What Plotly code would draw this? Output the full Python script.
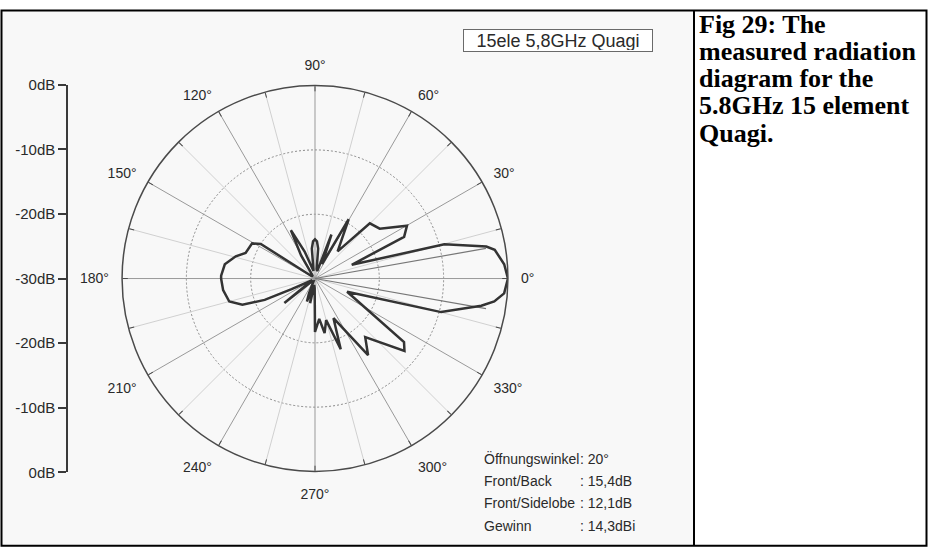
import plotly.graph_objects as go

# ---------------- measured azimuth pattern ----------------
# azimuth in degrees, level in dB relative to the main-lobe peak
azimuth_deg = [0, 4.3, 9.1, 10.6, 14.8, 20.5, 25.1, 29.9, 37.6, 45.2,
               50.2, 60.4, 64, 69.5, 73, 80, 84, 87, 90, 93,
               96, 101, 111, 116.5, 121, 128, 138, 145, 147.5, 150.8,
               159.8, 164.3, 171, 178.2, 180, 187.2, 195, 199.8, 203, 204.5,
               210, 216, 218.6, 222, 242, 248, 250.7, 253, 258.8, 263,
               268, 270, 276, 280, 285, 290, 295, 304.7, 310.6, 321,
               324.5, 337.6, 345.1, 350.7, 352.7, 355.5, 360]
level_db = [0, -0.5, -1.7, -2.9, -9.2, -23.9, -14.7, -13.5, -17.3, -17.9,
            -24.5, -19.4, -27.5, -22.7, -28.8, -28.5, -25.3, -24.2, -23.9, -24.2,
            -25.3, -28.8, -25.5, -21.6, -25.8, -29.3, -29.5, -29.3, -20.0, -18.8,
            -18.5, -17.2, -15.8, -15.4, -15.4, -15.6, -16.2, -18.0, -21.5, -26.0,
            -29.5, -29.0, -23.9, -29.3, -29.5, -27.5, -26.2, -28.5, -26.1, -29.0,
            -28.5, -21.7, -23.7, -21.4, -23.3, -18.3, -23.2, -15.5, -18.0, -12.1,
            -13.0, -24.6, -9.7, -3.8, -1.9, -0.5, 0]

# half-power beamwidth (Öffnungswinkel) and the -3 dB level
beamwidth_deg = 20
half_power_db = -3

# ---------------- scales and labels ----------------
r_floor, r_peak = -30, 0
ring_levels = [-20, -10]
major_angles = list(range(0, 360, 30))
minor_angles = list(range(15, 360, 30))
angle_labels = [f"{a}°" for a in major_angles]

scale_pos = [30, 20, 10, 0, -10, -20, -30]
scale_labels = ["0dB", "-10dB", "-20dB", "-30dB", "-20dB", "-10dB", "0dB"]

chart_title = "15ele 5,8GHz Quagi"
stat_names = ["Öffnungswinkel", "Front/Back", "Front/Sidelobe", "Gewinn"]
stat_values = [": 20°", ": 15,4dB", ": 12,1dB", ": 14,3dBi"]
caption_lines = ["Fig 29: The", "measured radiation", "diagram for the",
                 "5.8GHz 15 element", "Quagi."]

# ---------------- page geometry (pixels) ----------------
W, H = 928, 558
CX, CY, RAD = 315, 278, 199
LABEL_RAD = 212          # ring on which the angle labels sit
PANEL_SPLIT = 694
SANS = "Liberation Sans, Arial, sans-serif"
SERIF = "Liberation Serif, Times New Roman, serif"
INK = "#2a2a2a"


def px(x):
    return x / W


def py(y):
    return (H - y) / H


def spokes(angles):
    r, t = [], []
    for a in angles:
        r += [r_floor, r_peak, None]
        t += [a, a, None]
    return r, t


fig = go.Figure()

r_min, t_min = spokes(minor_angles)
fig.add_trace(go.Scatterpolar(r=r_min, theta=t_min, mode="lines",
                              line=dict(color="#d0d0d0", width=1),
                              hoverinfo="skip", showlegend=False))
r_maj, t_maj = spokes(major_angles)
fig.add_trace(go.Scatterpolar(r=r_maj, theta=t_maj, mode="lines",
                              line=dict(color="#999999", width=1),
                              hoverinfo="skip", showlegend=False))

# half-power markers at ±beamwidth/2
hp = beamwidth_deg / 2
fig.add_trace(go.Scatterpolar(r=[r_floor, half_power_db, None, r_floor, half_power_db],
                              theta=[hp, hp, None, -hp, -hp], mode="lines",
                              line=dict(color="#777777", width=1.2),
                              hoverinfo="skip", showlegend=False))

# radiation pattern
fig.add_trace(go.Scatterpolar(r=level_db, theta=azimuth_deg, mode="lines",
                              line=dict(color="#333333", width=2.5),
                              name="pattern", showlegend=False))

# empty trace that carries the outer label ring
fig.add_trace(go.Scatterpolar(r=[], theta=[], subplot="polar2", showlegend=False))

# placeholder so the left level scale is drawn
fig.add_trace(go.Scatter(x=[], y=[], xaxis="x", yaxis="y", showlegend=False))

fig.update_layout(
    width=W, height=H,
    margin=dict(l=0, r=0, t=0, b=0),
    paper_bgcolor="white",
    plot_bgcolor="rgba(0,0,0,0)",
    polar=dict(
        domain=dict(x=[px(CX - RAD), px(CX + RAD)], y=[py(CY + RAD), py(CY - RAD)]),
        bgcolor="rgba(0,0,0,0)",
        radialaxis=dict(range=[r_floor, r_peak], tickvals=ring_levels,
                        showticklabels=False, ticks="", showline=False,
                        gridcolor="#8a8a8a", griddash="2px,2px", gridwidth=1),
        angularaxis=dict(rotation=0, direction="counterclockwise",
                         tickvals=list(range(0, 360, 15)), showticklabels=False,
                         ticks="inside", ticklen=5, tickcolor="#4a4a4a",
                         showline=True, linecolor="#4a4a4a", linewidth=1.5,
                         showgrid=False),
    ),
    polar2=dict(
        domain=dict(x=[px(CX - LABEL_RAD), px(CX + LABEL_RAD)],
                    y=[py(CY + LABEL_RAD), py(CY - LABEL_RAD)]),
        bgcolor="rgba(0,0,0,0)",
        radialaxis=dict(visible=False),
        angularaxis=dict(rotation=0, direction="counterclockwise",
                         tickvals=major_angles, ticktext=angle_labels,
                         ticks="", showline=False, showgrid=False,
                         tickfont=dict(family=SANS, size=14, color=INK)),
    ),
    xaxis=dict(domain=[px(68), px(70)], range=[0, 1], visible=False),
    yaxis=dict(anchor="x", domain=[py(478), py(78)], range=[-30, 30],
               tickvals=scale_pos, ticktext=scale_labels,
               ticks="outside", ticklen=8, tickwidth=1.5, tickcolor="#3a3a3a",
               showline=True, linewidth=1.5, linecolor="#3a3a3a",
               showgrid=False, zeroline=False,
               tickfont=dict(family=SANS, size=15, color=INK)),
)

# panel background and frame
fig.add_shape(type="rect", xref="paper", yref="paper",
              x0=px(2), x1=px(PANEL_SPLIT), y0=py(553), y1=py(2),
              fillcolor="#f8f8f8", line=dict(width=0), layer="below")
fig.add_shape(type="rect", xref="paper", yref="paper",
              x0=px(1.5), x1=px(926.5), y0=py(553.5), y1=py(1.5),
              line=dict(color="black", width=2), layer="above")
fig.add_shape(type="line", xref="paper", yref="paper",
              x0=px(PANEL_SPLIT), x1=px(PANEL_SPLIT), y0=py(553.5), y1=py(1.5),
              line=dict(color="black", width=2))

# legend-style title box
fig.add_annotation(xref="paper", yref="paper", x=px(558), y=py(33),
                   text=chart_title, showarrow=False,
                   font=dict(family=SANS, size=18, color=INK),
                   bgcolor="white", bordercolor="#6a6a6a", borderwidth=1,
                   borderpad=1, width=186, height=19,
                   xanchor="center", yanchor="middle")

# antenna figures
stat_y = [464, 487, 510, 533]
for name, val, y in zip(stat_names, stat_values, stat_y):
    fig.add_annotation(xref="paper", yref="paper", x=px(482), y=py(y),
                       text=name, showarrow=False, xanchor="left", yanchor="middle",
                       font=dict(family=SANS, size=14, color=INK))
    fig.add_annotation(xref="paper", yref="paper", x=px(578), y=py(y),
                       text=val, showarrow=False, xanchor="left", yanchor="middle",
                       font=dict(family=SANS, size=14, color=INK))

# caption in the side panel
for i, line in enumerate(caption_lines):
    fig.add_annotation(xref="paper", yref="paper", x=px(697), y=py(16 + 28 * i),
                       text=f"<b>{line}</b>", showarrow=False,
                       xanchor="left", yanchor="middle",
                       font=dict(family=SERIF, size=26, color="black"))

fig.write_html("out.html")
